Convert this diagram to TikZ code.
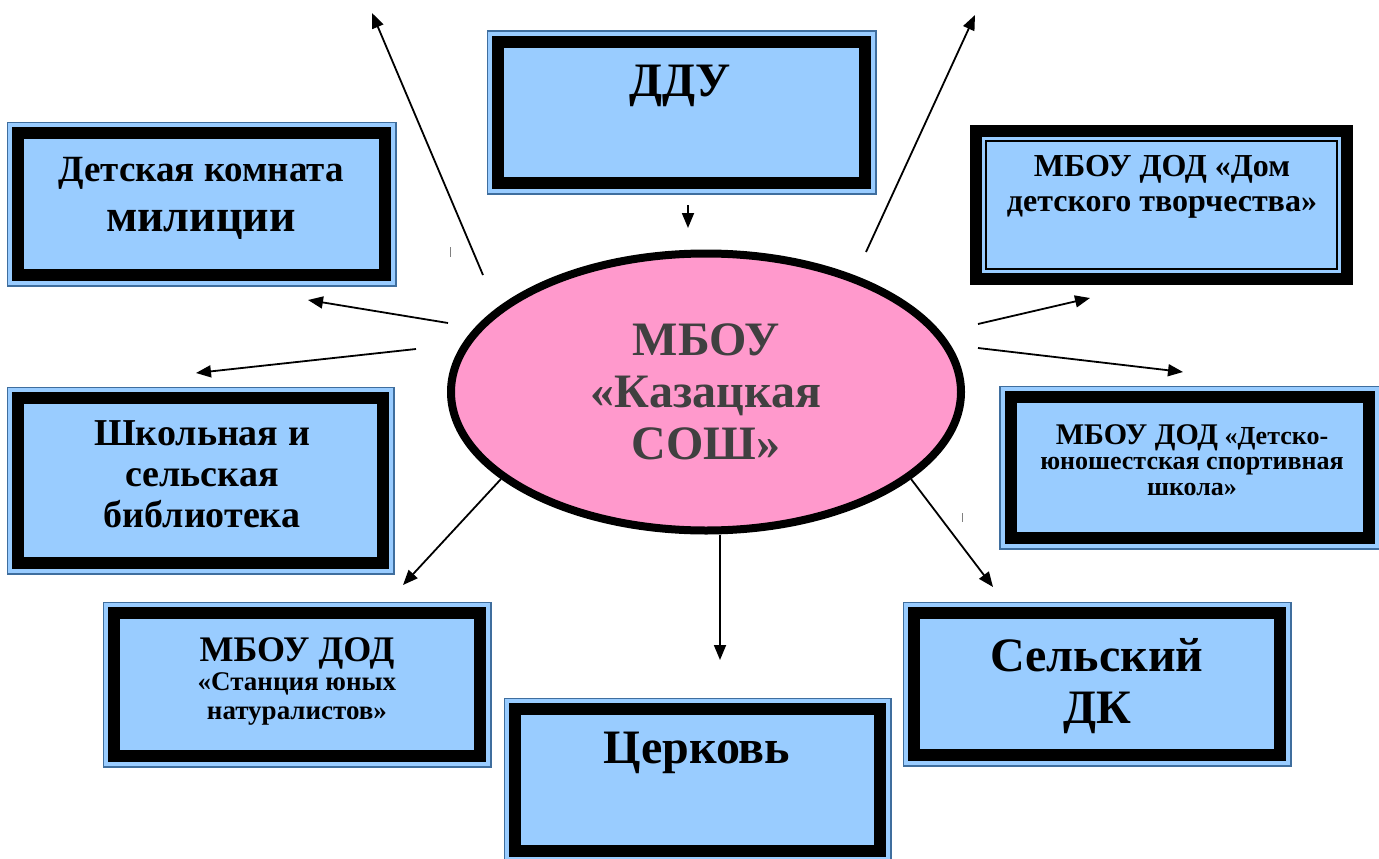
\documentclass[tikz,border=0pt]{standalone}
\usepackage{fontspec}
\setmainfont{Liberation Serif}
\usetikzlibrary{arrows.meta, shapes.geometric}
\definecolor{boxblue}{HTML}{99CCFF}
\definecolor{rimblue}{HTML}{3F6E9E}
\definecolor{schoolpink}{HTML}{FF99CC}
\definecolor{schooltext}{HTML}{404040}
\newcommand{\fs}[2]{\fontsize{#1}{#2}\selectfont}
\tikzset{
  x=1pt, y=-1pt,
  arr/.style={-{Triangle[length=15pt,width=12pt]}, line width=1.8pt},
  frameA/.style={rectangle, fill=boxblue, draw=black, line width=12pt,
    preaction={draw=rimblue, line width=23pt},
    preaction={draw=boxblue, line width=20pt}},
  frameB/.style={rectangle, fill=boxblue, draw=black, line width=1.2pt,
    preaction={draw=black, line width=32pt},
    preaction={draw=boxblue, line width=8pt}},
  txt/.style={align=center, inner sep=0pt, anchor=north}
}

\begin{document}
\begin{tikzpicture}
  \useasboundingbox (0,0) rectangle (1379,859);

  % boxes
  \node[frameA, minimum width=367, minimum height=142] (kdn) at (201.5,204) {};
  \node[frameA, minimum width=367, minimum height=141] (ddu) at (681.5,112.5) {};
  \node[frameB, minimum width=351, minimum height=128] (ddt) at (1161.5,205) {};
  \node[frameA, minimum width=358, minimum height=141] (djs) at (1189.5,467.5) {};
  \node[frameA, minimum width=365, minimum height=165] (bib) at (200.5,480.5) {};
  \node[frameA, minimum width=366, minimum height=143] (sun) at (297,684.5) {};
  \node[frameA, minimum width=366, minimum height=142] (sdk) at (1097,684) {};
  \node[frameA, minimum width=365, minimum height=142] (cerk) at (697.5,780) {};

  \node[txt, font=\bfseries\fs{37}{50}] (kdn-t) at (201,157)
    {Детская комната\\ \fs{46}{50}милиции};
  \node[txt, font=\bfseries\fs{48}{52}] (ddu-t) at (680,65) {ДДУ};
  \node[txt, font=\bfseries\fs{32}{35}] (ddt-t) at (1162,155)
    {МБОУ ДОД «Дом\\ детского творчества»};
  \node[txt, font=\bfseries\fs{26}{25.5}] (djs-t) at (1192,424)
    {{\fs{30}{25.5}МБОУ ДОД} «Детско-\\ юношестская спортивная\\ школа»};
  \node[txt, font=\bfseries\fs{38}{41}] (bib-t) at (202,420)
    {Школьная и\\ сельская\\ библиотека};
  \node[txt, font=\bfseries\fs{27}{29}] (sun-t) at (297,637)
    {\fs{36}{29}МБОУ ДОД\\ «Станция юных\\ натуралистов»};
  \node[txt, font=\bfseries\fs{48}{52}] (sdk-t) at (1097,638) {Сельский\\ ДК};
  \node[txt, font=\bfseries\fs{48}{52}] (cerk-t) at (697,732) {Церковь};

  \node[ellipse, fill=schoolpink, draw=black, line width=8pt, inner sep=0pt,
    minimum width=510, minimum height=277, text=schooltext,
    font=\bfseries\fs{48}{52}, align=center] (school) at (706,392)
    {МБОУ\\ «Казацкая\\ СОШ»};

  % arrow ends
  \coordinate (a1) at (448,323); \coordinate (a2) at (308,300);
  \coordinate (b1) at (416,349); \coordinate (b2) at (196,373);
  \coordinate (c2) at (403,585);
  \coordinate (d2) at (720,660);
  \coordinate (e2) at (993,587);
  \coordinate (f1) at (978,348); \coordinate (f2) at (1183,372);
  \coordinate (g1) at (978,324); \coordinate (g2) at (1090,298);
  \coordinate (h1) at (688,205); \coordinate (h2) at (688,228);
  \coordinate (i1) at (483,275); \coordinate (i2) at (372,13);
  \coordinate (j1) at (866,252); \coordinate (j2) at (975,15);

  \draw[arr] (a1) -- (a2);
  \draw[arr] (b1) -- (b2);
  \draw[arr] (school.203) -- (c2);
  \draw[arr] (school.south -| d2) -- (d2);
  \draw[arr] (school.337) -- (e2);
  \draw[arr] (f1) -- (f2);
  \draw[arr] (g1) -- (g2);
  \draw[arr] (h1) -- (h2);
  \draw[arr] (i1) -- (i2);
  \draw[arr] (j1) -- (j2);

  \draw[line width=1pt, gray] (450,247) -- (450,257);
  \draw[line width=1pt, gray] (962,513) -- (962,522);
\end{tikzpicture}
\end{document}
